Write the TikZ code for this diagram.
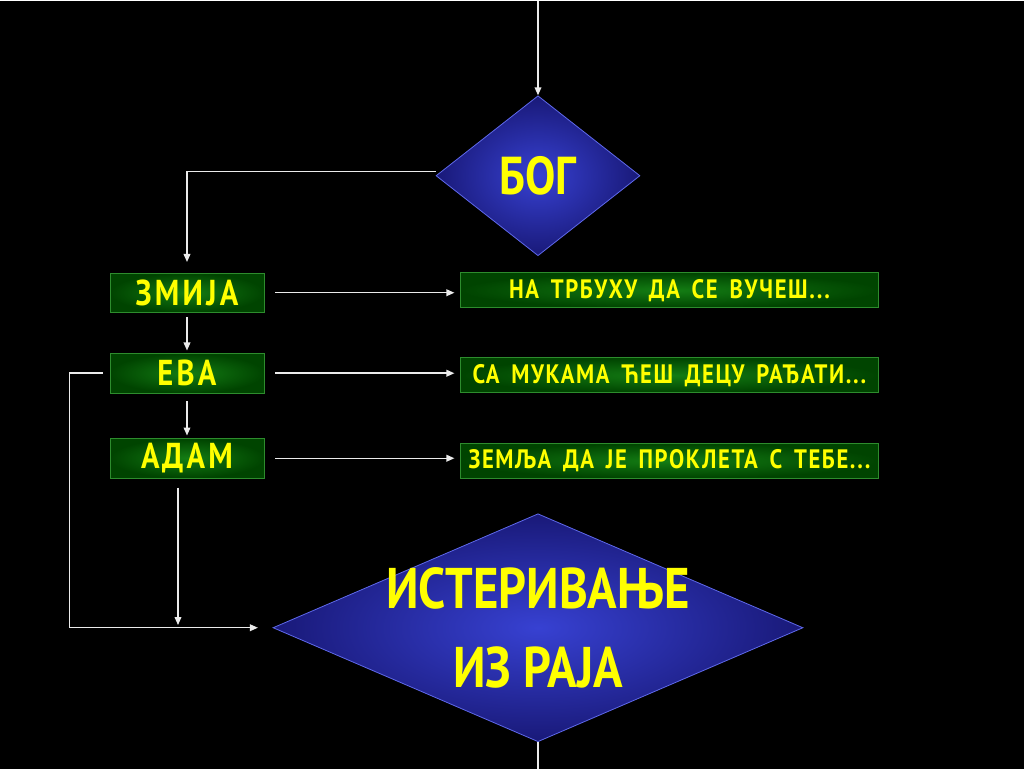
\documentclass[tikz,border=0pt]{standalone}
\usepackage{fontspec}
\setmainfont{PT Sans}[FakeStretch=0.85]
\newfontfamily\likfont{PT Sans}[FakeStretch=0.85,LetterSpace=9]
\newfontfamily\kaznafont{PT Sans}[FakeStretch=0.85,LetterSpace=6,WordSpace=1.6]
\usetikzlibrary{shapes.geometric,arrows.meta,positioning}
\definecolor{plavaivica}{RGB}{95,105,235}
\definecolor{plavasredina}{RGB}{55,65,210}
\definecolor{plavarub}{RGB}{25,25,120}
\definecolor{zelenasredina}{RGB}{20,125,20}
\definecolor{zelenarub}{RGB}{0,68,0}
\definecolor{zelenaivica}{RGB}{45,140,45}
\definecolor{zuta}{RGB}{255,255,0}
\definecolor{linija}{RGB}{235,235,235}

\begin{document}
\begin{tikzpicture}[x=0.75pt,y=-0.75pt,
  odluka/.style={diamond,draw=plavaivica,line width=0.6pt,shading=radial,
    inner color=plavasredina,outer color=plavarub,inner sep=0pt,text=zuta},
  lik/.style={rectangle,draw=zelenaivica,line width=0.6pt,shading=radial,
    inner color=zelenasredina,outer color=zelenarub,minimum width=115.5pt,
    minimum height=29.5pt,inner sep=0pt,text=zuta,
    font=\likfont\fontsize{27}{30}\selectfont\bfseries},
  kazna/.style={lik,minimum width=314pt,minimum height=26pt,
    font=\kaznafont\fontsize{20}{22}\selectfont\bfseries},
  veza/.style={draw=linija,line width=1.1pt,-{Triangle[length=6pt,width=5pt]}}]

% background
\fill[black] (0,0) rectangle (1024,768);

%Flowchart: Decision
\node[odluka,minimum width=153pt,minimum height=120pt,
  font=\fontsize{40}{48}\selectfont\bfseries] (bog) at (538,175) {БОГ};
%Flowchart: Decision
\node[odluka,minimum width=397.5pt,minimum height=171pt] (raj) at (538,627) {};
\node[text=zuta,align=center,font=\fontsize{43}{59}\selectfont\bfseries]
  (rajtekst) at (raj.center) {ИСТЕРИВАЊЕ\\ИЗ РАЈА};

%Flowchart: Process
\node[lik] (zmija) at (187,292) {ЗМИЈА};
\node[lik] (eva) at (187,372.5) {ЕВА};
\node[lik] (adam) at (187,457.5) {АДАМ};

%Flowchart: Process
\node[kazna] (kazna1) at (669.5,289.5) {НА ТРБУХУ ДА СЕ ВУЧЕШ...};
\node[kazna] (kazna2) at (669.5,374.5) {СА МУКАМА ЋЕШ ДЕЦУ РАЂАТИ...};
\node[kazna] (kazna3) at (669.5,460) {ЗЕМЉА ДА ЈЕ ПРОКЛЕТА С ТЕБЕ...};

\coordinate (vrh) at (538,0);
\coordinate (dno) at (538,768);
\coordinate (adamizlaz) at (178,487);

% arrows
\draw[veza] (vrh) -- (bog.north);
\draw[veza,shorten >=8pt] ([yshift=3pt]bog.west) -| (zmija.north);
\draw[veza,shorten <=3pt,shorten >=2pt] (zmija.south) -- (eva.north);
\draw[veza,shorten <=6pt,shorten >=2pt] (eva.south) -- (adam.north);
\draw[veza,shorten <=8pt,shorten >=4pt] (zmija.east) -- (kazna1.west |- zmija.east);
\draw[veza,shorten <=8pt,shorten >=4pt] (eva.east) -- (kazna2.west |- eva.east);
\draw[veza,shorten <=8pt,shorten >=4pt] (adam.east) -- (kazna3.west |- adam.east);
\draw[veza,shorten <=5pt,shorten >=11pt] (eva.west) -- ++(-40,0) |- (raj.west);
\draw[veza,shorten >=2pt] (adamizlaz) -- (adamizlaz |- raj.west);
\draw[draw=linija,line width=1.1pt] (raj.south) -- (dno);

\end{tikzpicture}
\end{document}
